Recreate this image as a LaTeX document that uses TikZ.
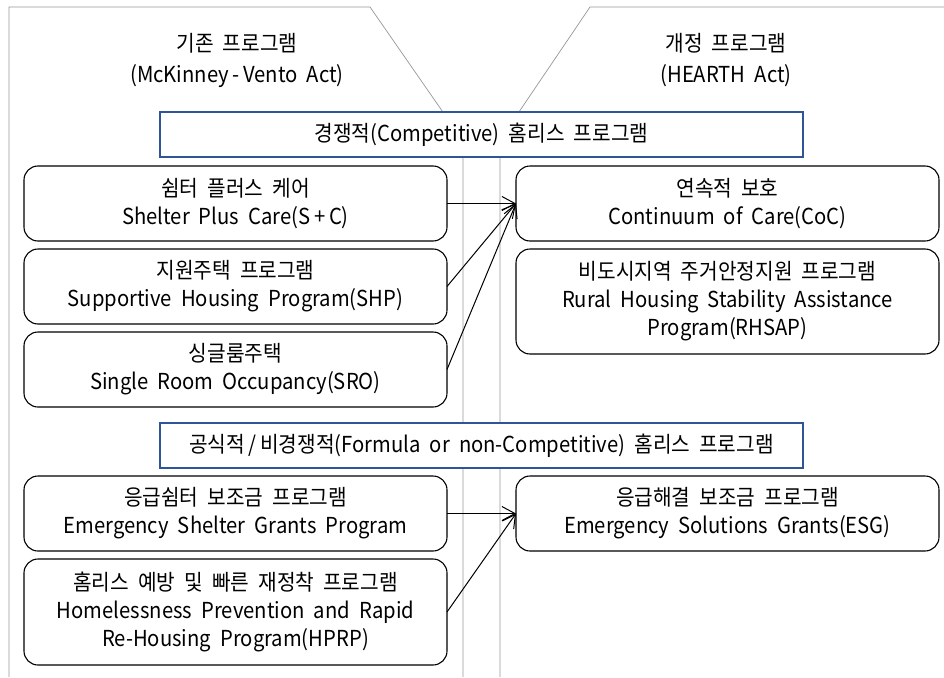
\documentclass[tikz,border=0pt]{standalone}
\usepackage{fontspec}
\setmainfont{Noto Sans CJK KR}[FakeStretch=0.92, WordSpace=2.0]
\usetikzlibrary{arrows.meta}
\definecolor{hdrblue}{RGB}{47,85,151}
\definecolor{panelgray}{RGB}{150,150,150}
\begin{document}
\begin{tikzpicture}[x=1pt, y=-1pt,
  every node/.style={inner sep=0pt, outer sep=0pt},
  panel/.style={draw=panelgray, line width=0.7pt},
  progbox/.style={draw=black, line width=1.1pt, fill=white, rounded corners=14pt,
    minimum width=423pt, minimum height=75pt, align=center,
    font=\fontsize{22}{28}\selectfont},
  tallbox/.style={progbox, minimum height=105pt},
  groupbox/.style={draw=hdrblue, line width=2pt, fill=white,
    minimum width=643pt, minimum height=45pt,
    font=\fontsize{22}{28}\selectfont},
  headtext/.style={align=center, font=\fontsize{22}{31}\selectfont},
  flow/.style={draw=black, line width=1pt, -{Straight Barb[length=13pt, width=14pt, line width=1pt]}}
]
\useasboundingbox (0,0) rectangle (944,677);

% panel outlines for the old and the revised programme
\draw[panel] (9,677) -- (9,7) -- (370,7) -- (463,141) -- (463,677);
\draw[panel] (944,7) -- (590,7) -- (500,140) -- (500,677);

% column headings
\node[headtext] (oldhead) at (237,60.5) {기존 프로그램\\(McKinney\,-\,Vento Act)};
\node[headtext] (newhead) at (726,60.5) {개정 프로그램\\(HEARTH Act)};

% group headings
\node[groupbox] (comp) at (481.5,134.5) {경쟁적(Competitive) 홈리스 프로그램};
\node[groupbox] (formula) at (481.5,445.5) {공식적\,/\,비경쟁적(Formula or non-Competitive) 홈리스 프로그램};

% existing programmes
\node[progbox] (spc) at (235.5,203.5) {쉼터 플러스 케어\\Shelter Plus Care(S\,+\,C)};
\node[progbox] (shp) at (235.5,286.5) {지원주택 프로그램\\Supportive Housing Program(SHP)};
\node[progbox] (sro) at (235.5,369.5) {싱글룸주택\\Single Room Occupancy(SRO)};
\node[progbox] (esgp) at (235.5,513.5) {응급쉼터 보조금 프로그램\\Emergency Shelter Grants Program};
\node[tallbox, minimum height=106pt] (hprp) at (235.5,612) {홈리스 예방 및 빠른 재정착 프로그램\\Homelessness Prevention and Rapid\\Re-Housing Program(HPRP)};

% revised programmes
\node[progbox] (coc) at (727.5,203.5) {연속적 보호\\Continuum of Care(CoC)};
\node[tallbox] (rhsap) at (727.5,301.5) {비도시지역 주거안정지원 프로그램\\Rural Housing Stability Assistance\\Program(RHSAP)};
\node[progbox] (esg) at (727.5,513.5) {응급해결 보조금 프로그램\\Emergency Solutions Grants(ESG)};

% consolidation arrows
\draw[flow] (spc.east) -- (coc.west);
\draw[flow] (shp.east) -- (coc.west);
\draw[flow] (sro.east) -- (coc.west);
\draw[flow] (esgp.east) -- (esg.west);
\draw[flow] (hprp.east) -- (esg.west);
\end{tikzpicture}
\end{document}
